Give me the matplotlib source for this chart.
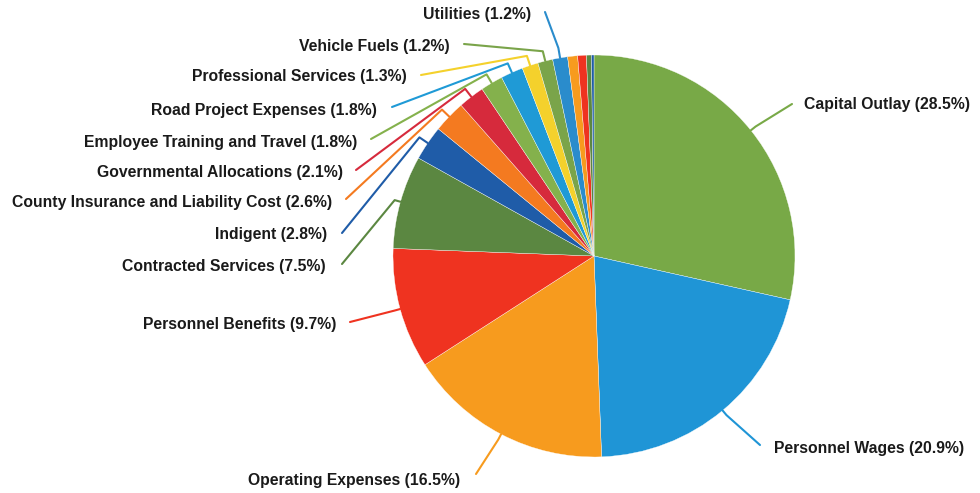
import numpy as np
import matplotlib.pyplot as plt

plt.rcParams["font.family"] = ["Liberation Sans", "DejaVu Sans"]

# budget categories (clockwise from 12 o'clock)
labels = ["Capital Outlay", "Personnel Wages", "Operating Expenses", "Personnel Benefits",
          "Contracted Services", "Indigent", "County Insurance and Liability Cost",
          "Governmental Allocations", "Employee Training and Travel", "Road Project Expenses",
          "Professional Services", "Vehicle Fuels", "Utilities"]
values = [28.5, 20.9, 16.5, 9.7, 7.5, 2.8, 2.6, 2.1, 1.8, 1.8, 1.3, 1.2, 1.2]
colors = ["#78a947", "#1f95d6", "#f79b1e", "#ef3320", "#5b8741", "#1f5ca8", "#f47a20",
          "#d62a3c", "#84b14c", "#1f9ad6", "#f4d12c", "#7aa44a", "#2a8ccc"]

# small unlabeled slices at the end
small_values = [0.8, 0.7, 0.4, 0.2]
small_colors = ["#f79b1e", "#ef3320", "#5b8741", "#1f5ca8"]

# label anchor (pixel coords of line end), text side
label_pos = [(792, 104, "L"), (760, 445, "L"), (476, 474, "R"), (350, 322, "R"),
             (342, 264, "R"), (342, 233, "R"), (346, 199, "R"), (356, 170, "R"),
             (371, 139, "R"), (392, 107, "R"), (421, 75, "R"), (464, 44, "R"), (545, 12, "R")]
# where the text sits relative to the line end
text_off = [(12, 1), (14, 4), (-16, 7), (-14, 2), (-16, 3), (-15, 2), (-14, 4), (-13, 3),
            (-14, 3), (-15, 3), (-14, 2), (-14, 2), (-14, 3)]

W, H = 980, 493
cx, cy, R = 594, H - 256, 201

fig = plt.figure(figsize=(9.8, 4.93), dpi=100)
ax = fig.add_axes([0, 0, 1, 1])

wedges, _ = ax.pie(values + small_values, colors=colors + small_colors,
                   startangle=90, counterclock=False, center=(cx, cy), radius=R,
                   wedgeprops=dict(edgecolor="white", linewidth=0.25))
ax.set_xlim(0, W)
ax.set_ylim(0, H)
ax.set_aspect("equal")
ax.axis("off")

for i, lab in enumerate(labels):
    w = wedges[i]
    mid = np.deg2rad((w.theta1 + w.theta2) / 2)
    p0 = (cx + R * np.cos(mid), cy + R * np.sin(mid))
    rr = 1.03 if values[i] > 5 else 1.05
    p1 = (cx + R * rr * np.cos(mid), cy + R * rr * np.sin(mid))
    ex, ey, side = label_pos[i]
    ey = H - ey
    ax.plot([p0[0], p1[0], ex], [p0[1], p1[1], ey], color=colors[i], lw=1.5,
            solid_capstyle="round", solid_joinstyle="round")
    dx, dy = text_off[i]
    ax.text(ex + dx, ey - dy, f"{lab} ({values[i]}%)", fontsize=11.3, fontweight="bold",
            ha="left" if side == "L" else "right", va="center", color="#1a1a1a")

fig.savefig("out.png", dpi=100, facecolor="white")
